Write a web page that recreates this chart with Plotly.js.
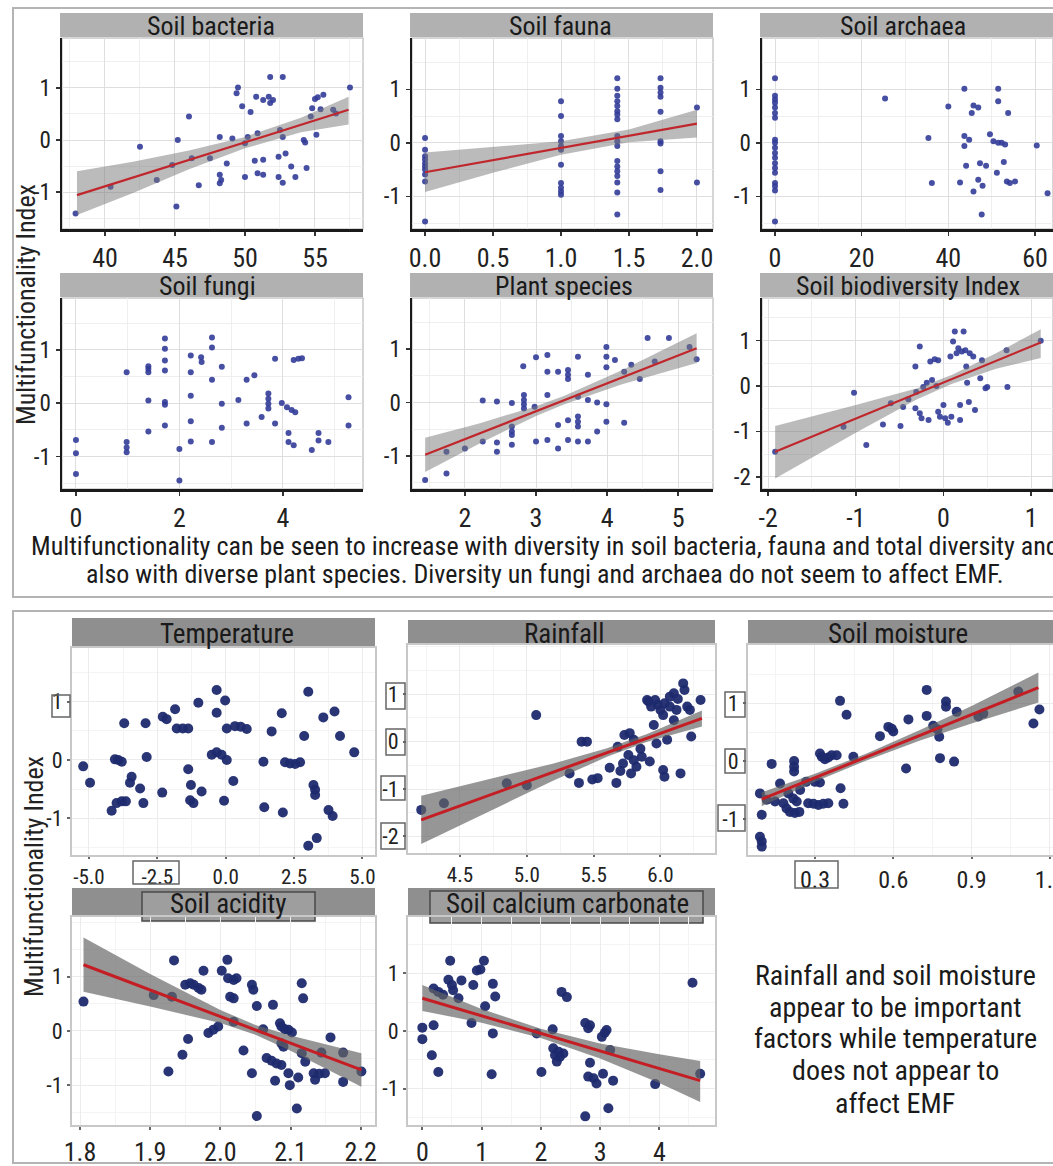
<!DOCTYPE html>
<html><head><meta charset="utf-8">
<script src="https://cdn.plot.ly/plotly-3.0.1.min.js"></script>
<style>html,body{margin:0;padding:0;background:#fff;} #chart{width:1053px;height:1166px;}</style>
</head><body><div id="chart"></div>
<script>
// ---------- DATA ----------
const bacteriaX = [37.9, 40.4, 42.5, 43.7, 45.1, 45.2, 46.0, 44.8, 46.2, 46.7, 47.5, 48.2, 48.2, 48.3, 48.2, 48.7, 49.1, 49.5, 49.4, 49.8, 50.0, 50.0, 50.2, 50.4, 50.8, 50.9, 50.7, 50.9, 51.3, 51.3, 51.3, 51.7, 51.8, 51.8, 52.0, 52.5, 52.4, 52.9, 52.7, 52.7, 52.4, 52.7, 53.3, 53.6, 54.2, 54.3, 54.4, 54.7, 54.8, 55.0, 55.2, 55.6, 55.1, 55.4, 56.3, 56.5, 57.5];
const bacteriaY = [-1.41, -0.90, -0.13, -0.77, -1.28, 0.0, 0.45, -0.48, -0.35, -0.87, -0.35, 0.06, -0.67, -0.77, -0.83, -0.45, 0.03, 1.01, 0.90, 0.65, -0.06, -0.71, 0.06, 0.54, 0.83, 0.13, -0.40, -0.64, -0.67, -0.38, 0.77, 0.83, 0.71, 1.21, 0.77, 0.19, -0.32, -0.26, 1.21, 0.06, -0.71, -0.82, -0.51, -0.71, 0.0, -0.05, -0.54, 0.45, 0.61, 0.79, 0.82, 0.87, 0.10, 0.59, 0.58, 0.51, 1.01];
const bacteriaFitX = [38, 42, 46, 50, 54, 57.4];
const bacteriaFitY = [-1.06, -0.72, -0.38, -0.05, 0.29, 0.58];
const bacteriaLo = [-1.44, -1.02, -0.56, -0.16, 0.15, 0.30];
const bacteriaHi = [-0.60, -0.42, -0.20, 0.06, 0.43, 0.83];

const faunaX = [0,0,0,0,0,0,0,0,0,0, 1,1,1,1,1,1,1,1,1,1,1, 1.414,1.414,1.414,1.414,1.414,1.414,1.414,1.414,1.414,1.414,1.414,1.414,1.414,1.414,1.414,1.414,1.414,1.414, 1.732,1.732,1.732,1.732,1.732,1.732,1.732,1.732,1.732, 2,2];
const faunaY = [0.09,-0.13,-0.25,-0.31,-0.38,-0.44,-0.50,-0.59,-0.72,-1.47, 0.78,0.50,0.13,0.03,-0.06,-0.13,-0.41,-0.75,-0.84,-0.91,-0.97, 1.21,1.01,0.88,0.78,0.69,0.59,0.53,0.44,0.13,0.03,-0.06,-0.34,-0.44,-0.53,-0.62,-0.74,-0.93,-1.34, 1.21,1.03,0.94,0.86,0.58,0.03,-0.01,-0.53,-0.88, 0.66,-0.74];
const faunaFitX = [0, 0.5, 1.0, 1.5, 2.0];
const faunaFitY = [-0.55, -0.32, -0.095, 0.13, 0.36];
const faunaLo = [-0.92, -0.56, -0.22, 0.01, 0.10];
const faunaHi = [-0.18, -0.08, 0.03, 0.25, 0.62];

const archaeaX = [0,0,0,0,0,0,0,0,0,0,0,0,0,0,0,0,0,0,0, 25.4, 35.4, 36.2, 40.0, 42.7, 43.7, 43.7, 43.7, 44.1, 44.8, 45.4, 45.8, 46.9, 45.8, 46.9, 47.3, 47.9, 48.7, 47.7, 49.6, 50.4, 51.2, 51.5, 51.5, 51.5, 52.3, 52.8, 53.1, 53.8, 53.5, 54.2, 55.4, 60.4, 62.9];
const archaeaY = [1.21,0.88,0.81,0.75,0.66,0.56,0.47,0.06,0.0,-0.09,-0.19,-0.28,-0.38,-0.47,-0.56,-0.75,-0.81,-0.89,-1.47, 0.83, 0.09, -0.75, 0.68, -0.74, 1.01, 0.13, -0.06, -0.43, 0.06, 0.56, 0.70, 0.66, -0.91, -0.69, -0.38, -0.80, -0.43, -1.34, 0.16, 0.03, -0.56, 1.01, 0.78, 0.0, 0.0, -0.36, -0.03, 0.56, -0.72, -0.75, -0.72, -0.05, -0.94];

const fungiX = [0,0,0, 0.98,0.98,0.98,0.98, 1.40,1.40,1.40,1.40,1.40, 1.72,1.72,1.72,1.72,1.72,1.72,1.72, 2.0,2.0, 2.22,2.22,2.22,2.22,2.22, 2.42,2.43, 2.63,2.63,2.63,2.63, 2.82,2.82,2.82, 3.14, 3.30, 3.45, 3.30, 3.59, 3.72,3.72,3.72,3.72, 3.85,3.85, 3.98, 4.08, 4.17, 4.24, 4.21, 4.30, 4.37, 4.11, 4.11, 4.21, 4.56, 4.69, 4.69, 4.88, 5.27, 5.27];
const fungiY = [-0.69,-0.94,-1.33, 0.58,-0.73,-0.83,-0.92, 0.69,0.64,0.58,0.05,-0.53, 1.21,1.02,0.80,0.61,0.02,-0.03,-0.42, -0.86,-1.45, 0.89,0.58,0.14,-0.34,-0.72, 0.86,0.77, 1.23,1.04,0.44,-0.73, 0.68,-0.01,-0.46, 0.06, 0.44, 0.52, -0.38, -0.26, 0.18,0.08,-0.01,-0.10, 0.83,-0.38, 0.0, -0.08, -0.13, -0.17, 0.81, 0.83, 0.84, -0.56, -0.73, -0.79, -0.88, -0.56, -0.70, -0.73, 0.11, -0.42];

const plantX = [1.44, 1.74, 1.74, 2.0, 2.25, 2.25, 2.45, 2.45, 2.45, 2.66, 2.66, 2.66, 2.66, 2.66, 2.82, 2.83, 2.83, 2.83, 2.83, 2.98, 3.0, 3.0, 3.16, 3.16, 3.16, 3.16, 3.31, 3.31, 3.31, 3.45, 3.45, 3.45, 3.45, 3.45, 3.59, 3.59, 3.59, 3.59, 3.59, 3.59, 3.73, 3.73, 3.73, 3.86, 3.86, 3.99, 3.99, 3.99, 3.99, 3.99, 4.11, 4.24, 4.24, 4.34, 4.46, 4.57, 4.67, 4.87, 5.16, 5.26];
const plantY = [-1.45, -0.92, -1.33, -0.86, 0.04, -0.73, 0.02, -0.75, -0.92, -0.01, -0.45, -0.54, -0.61, -0.79, 0.68, 0.14, 0.05, -0.03, -0.11, -0.08, -0.73, 0.85, 0.89, 0.58, 0.14, -0.70, 0.58, -0.42, -0.86, 0.61, 0.52, 0.44, -0.33, -0.70, 0.86, 0.11, -0.26, -0.36, -0.45, -0.73, 0.52, 0.05, -0.73, 0.0, -0.54, 1.04, 0.86, 0.66, -0.03, -0.36, 0.80, 0.58, -0.38, 0.71, 0.44, 1.21, 0.77, 1.21, 1.04, 0.81];
const plantFitX = [1.44, 2.2, 3.0, 3.4, 4.2, 5.26];
const plantFitY = [-0.98, -0.58, -0.16, 0.05, 0.47, 1.02];
const plantLo = [-1.30, -0.77, -0.25, -0.03, 0.34, 0.74];
const plantHi = [-0.66, -0.39, -0.07, 0.13, 0.60, 1.30];

const biodivX = [-1.92, -1.14, -1.02, -0.88, -0.69, -0.60, -0.49, -0.46, -0.40, -0.32, -0.31, -0.32, -0.27, -0.27, -0.25, -0.23, -0.19, -0.17, -0.15, -0.13, -0.10, -0.08, -0.06, -0.06, -0.04, 0.0, 0.02, 0.05, 0.08, 0.09, 0.11, 0.13, 0.15, 0.17, 0.19, 0.21, 0.23, 0.25, 0.26, 0.27, 0.19, 0.29, 0.30, 0.34, 0.36, 0.42, 0.44, 0.48, 0.50, 0.72, 0.73, 1.11];
const biodivY = [-1.45, -0.90, -0.15, -1.30, -0.85, -0.38, -0.88, -0.46, -0.29, 0.43, -0.13, -0.49, 0.87, -0.60, -0.71, -0.02, 0.07, -0.75, 0.54, 0.13, 0.59, 0.0, 0.57, -0.57, -0.68, -0.42, -0.71, -0.81, 0.65, -0.68, 0.98, 1.20, 0.72, 0.83, -0.75, 0.76, 1.20, 0.79, 0.43, 0.07, -0.42, -0.35, 0.72, 0.65, -0.53, 0.17, 0.57, -0.05, -0.02, 0.79, -0.02, 1.0];
const biodivFitX = [-1.92, -1.0, -0.3, 0.1, 0.6, 1.11];
const biodivFitY = [-1.45, -0.72, -0.17, 0.15, 0.55, 0.96];
const biodivLo = [-2.04, -1.03, -0.29, 0.05, 0.38, 0.62];
const biodivHi = [-0.88, -0.42, -0.05, 0.25, 0.72, 1.25];

const tempX = [-5.21, -4.96, -4.17, -4.05, -3.93, -3.80, -3.99, -3.80, -3.65, -3.71, -3.44, -3.50, -3.13, -3.01, -2.93, -2.89, -2.32, -2.30, -2.16, -1.85, -1.79, -1.57, -1.37, -1.37, -1.27, -1.30, -1.18, -0.88, -1.00, -0.51, -0.33, -0.15, 0.04, -0.33, -0.33, -0.02, -0.06, 0.04, 0.34, 0.55, 0.77, 0.28, 1.38, 1.41, 1.68, 2.05, 2.09, 2.17, 2.35, 2.54, 2.72, 2.87, 3.02, 3.02, 3.33, 3.21, 3.27, 3.27, 3.57, 3.98, 3.76, 3.91, 4.18, 4.70];
const tempY = [-0.11, -0.39, -0.87, 0.01, 0.0, -0.03, -0.74, -0.71, -0.71, 0.63, -0.29, -0.39, -0.49, -0.74, 0.63, 0.05, -0.56, 0.74, 0.70, 0.87, 0.54, 0.54, 0.54, -0.16, -0.43, -0.69, -0.74, -0.54, 0.98, 0.09, 0.13, 0.09, 0.0, 1.20, 0.81, 1.02, -0.70, 0.54, 0.58, 0.57, 0.53, -0.36, -0.03, -0.81, 0.49, 0.80, -0.90, -0.04, -0.06, -0.07, -0.04, 0.41, 1.17, -1.47, -1.34, -0.43, -0.51, -0.60, 0.73, 0.83, -0.86, -0.96, 0.41, 0.13];

const rainX = [4.21, 4.38, 4.85, 5.00, 5.07, 5.32, 5.39, 5.41, 5.45, 5.49, 5.53, 5.67, 5.68, 5.72, 5.73, 5.77, 5.80, 5.76, 5.80, 5.82, 5.78, 5.86, 5.92, 5.91, 5.93, 5.96, 5.97, 6.00, 6.02, 6.03, 6.02, 6.03, 6.05, 6.07, 6.10, 6.12, 6.15, 6.17, 6.18, 6.20, 6.23, 6.22, 6.30, 5.90, 6.07, 5.62, 5.70, 5.85, 5.95, 6.10, 6.13, 5.98];
const rainY = [-1.44, -1.30, -0.88, -0.92, 0.56, -0.67, -0.87, 0.0, 0.0, -0.80, -0.77, -0.87, -0.11, -0.46, 0.14, 0.18, 0.04, -0.28, -0.39, -0.53, -0.67, -0.32, -0.42, 0.85, 0.74, 0.88, -0.04, 0.67, 0.56, 0.81, -0.60, -0.74, 0.04, 0.95, 1.02, 0.67, -0.67, 1.23, 1.09, 0.74, 0.11, 0.67, 0.88, 0.88, 0.74, -0.55, -0.62, -0.15, 0.35, 0.45, 0.90, 0.78];
const rainFitX = [4.21, 4.7, 5.2, 5.6, 5.9, 6.31];
const rainFitY = [-1.65, -1.15, -0.64, -0.23, 0.08, 0.49];
const rainLo = [-2.16, -1.50, -0.82, -0.32, 0.00, 0.32];
const rainHi = [-1.14, -0.80, -0.46, -0.14, 0.16, 0.66];

const moistX = [0.089, 0.096, 0.089, 0.096, 0.096, 0.115, 0.134, 0.147, 0.166, 0.179, 0.191, 0.204, 0.223, 0.240, 0.198, 0.217, 0.230, 0.220, 0.220, 0.220, 0.243, 0.266, 0.274, 0.294, 0.313, 0.332, 0.351, 0.300, 0.319, 0.319, 0.326, 0.338, 0.351, 0.364, 0.383, 0.396, 0.421, 0.398, 0.409, 0.447, 0.549, 0.581, 0.594, 0.600, 0.649, 0.658, 0.728, 0.728, 0.753, 0.769, 0.776, 0.779, 0.802, 0.802, 0.833, 0.843, 0.926, 0.945, 1.079, 1.137, 1.160];
const moistY = [-0.56, -0.93, -1.31, -1.39, -1.48, -0.67, -0.05, -0.70, -0.39, -0.73, -0.82, -0.88, -0.90, -0.88, -0.56, -0.65, -0.70, 0.0, -0.10, -0.18, -0.50, -0.36, -0.73, -0.74, -0.76, -0.74, -0.73, -0.36, -0.37, 0.13, 0.075, 0.03, 0.06, 0.10, 0.10, 1.04, 0.80, -0.47, -0.74, 0.075, 0.43, 0.59, 0.56, 0.51, -0.13, 0.72, 1.23, 0.78, 0.61, 0.55, 0.42, 0.05, 1.03, 0.94, -0.01, 0.85, 0.77, 0.82, 1.20, 0.65, 0.89];
const moistFitX = [0.096, 0.3, 0.5, 0.7, 0.9, 1.156];
const moistFitY = [-0.66, -0.29, 0.075, 0.44, 0.80, 1.27];
const moistLo = [-0.78, -0.36, 0.015, 0.35, 0.65, 1.01];
const moistHi = [-0.54, -0.22, 0.135, 0.53, 0.95, 1.53];

const acidX = [1.805, 1.905, 1.931, 1.934, 1.926, 1.946, 1.954, 1.950, 1.957, 1.962, 1.969, 1.973, 1.976, 1.983, 1.990, 1.997, 2.002, 2.010, 2.011, 2.019, 2.023, 2.014, 2.019, 2.019, 2.033, 2.045, 2.047, 2.052, 2.045, 2.052, 2.061, 2.066, 2.073, 2.080, 2.087, 2.075, 2.078, 2.085, 2.087, 2.092, 2.097, 2.102, 2.087, 2.090, 2.097, 2.099, 2.109, 2.111, 2.116, 2.118, 2.116, 2.121, 2.133, 2.135, 2.141, 2.149, 2.144, 2.157, 2.175, 2.175, 2.201];
const acidY = [0.54, 0.66, 0.63, 1.30, -0.75, -0.44, -0.15, 0.85, 0.88, 0.85, 0.79, 0.76, 1.11, -0.04, 0.02, 0.08, 1.11, 1.31, 0.97, 0.94, 0.97, 0.63, 0.60, 0.17, -0.36, 0.85, 0.76, 0.46, -0.78, -1.57, 0.03, -0.50, -0.55, -0.60, -0.63, 0.48, -0.92, 0.14, 0.08, 0.03, 0.02, -0.03, -0.23, -0.29, -0.78, -1.00, -1.43, -0.86, 0.88, 0.60, -0.41, -0.57, -0.78, -0.90, -0.79, -0.78, -0.40, -0.12, -0.40, -0.94, -0.75];
const acidFitX = [1.805, 1.9, 2.0, 2.05, 2.1, 2.201];
const acidFitY = [1.22, 0.75, 0.265, 0.02, -0.225, -0.72];
const acidLo = [0.72, 0.45, 0.145, -0.07, -0.365, -1.03];
const acidHi = [1.72, 1.05, 0.385, 0.11, -0.085, -0.41];

const carbX = [0.0, 0.0, 0.16, 0.19, 0.27, 0.19, 0.27, 0.35, 0.47, 0.44, 0.50, 0.52, 0.61, 0.66, 0.83, 0.86, 0.92, 0.98, 1.04, 1.06, 1.19, 1.23, 1.19, 1.17, 2.01, 1.93, 2.20, 2.21, 2.24, 2.27, 2.32, 2.38, 2.30, 2.35, 2.44, 2.75, 2.80, 2.83, 2.75, 2.83, 2.80, 2.89, 2.94, 3.05, 3.03, 3.08, 3.11, 3.14, 3.17, 3.22, 3.93, 4.56, 4.69];
const carbY = [0.06, -0.14, -0.42, 0.10, -0.71, 0.74, 0.68, 0.63, 1.22, 0.89, 0.80, 0.71, 0.57, 0.88, 0.14, 0.80, 1.05, 1.07, 1.22, 0.43, 0.82, 0.60, -0.04, -0.75, -0.71, -0.04, 0.03, -0.30, -0.42, -0.53, -0.45, -0.39, -0.36, 0.68, 0.59, 0.14, 0.05, 0.10, -1.48, -0.55, -0.79, -0.82, -0.91, -0.74, -0.10, -0.03, 0.02, -1.34, -0.33, -0.86, -0.92, 0.84, -0.74];
const carbFitX = [0, 1, 2, 3, 4, 4.69];
const carbFitY = [0.57, 0.265, -0.04, -0.345, -0.65, -0.86];
const carbLo = [0.35, 0.145, -0.12, -0.475, -0.90, -1.23];
const carbHi = [0.80, 0.385, 0.04, -0.215, -0.40, -0.52];

// tick values and labels
const bacteriaTicks = [40, 45, 50, 55];           const bacteriaTickText = ['40','45','50','55'];
const faunaTicks = [0, 0.5, 1, 1.5, 2];            const faunaTickText = ['0.0','0.5','1.0','1.5','2.0'];
const archaeaTicks = [0, 20, 40, 60];              const archaeaTickText = ['0','20','40','60'];
const fungiTicks = [0, 2, 4];                      const fungiTickText = ['0','2','4'];
const plantTicks = [2, 3, 4, 5];                   const plantTickText = ['2','3','4','5'];
const biodivTicks = [-2, -1, 0, 1];                const biodivTickText = ['-2','-1','0','1'];
const tempTicks = [-5, -2.5, 0, 2.5, 5];           const tempTickText = ['-5.0','-2.5','0.0','2.5','5.0'];
const rainTicks = [4.5, 5, 5.5, 6];                const rainTickText = ['4.5','5.0','5.5','6.0'];
const moistTicks = [0.3, 0.6, 0.9, 1.2];           const moistTickText = ['0.3','0.6','0.9','1.2'];
const acidTicks = [1.8, 1.9, 2.0, 2.1, 2.2];       const acidTickText = ['1.8','1.9','2.0','2.1','2.2'];
const carbTicks = [0, 1, 2, 3, 4];                 const carbTickText = ['0','1','2','3','4'];
const yTicks3 = [-1, 0, 1];                        const yTickText3 = ['-1','0','1'];
const yTicks4 = [-2, -1, 0, 1];                    const yTickText4 = ['-2','-1','0','1'];

const panelTitles = ['Soil bacteria','Soil fauna','Soil archaea','Soil fungi','Plant species','Soil biodiversity Index','Temperature','Rainfall','Soil moisture','Soil acidity','Soil calcium carbonate'];
const yAxisTitle = 'Multifunctionality Index';
const captionLine1 = 'Multifunctionality can be seen to increase with diversity in soil bacteria, fauna and total diversity and';
const captionLine2 = 'also with diverse plant species. Diversity un fungi and archaea do not seem to affect EMF.';
const noteLines = ['Rainfall and soil moisture','appear to be important','factors while temperature','does not appear to','affect EMF'];

// ---------- LAYOUT ----------
const W=1053, H=1166;
const FONT="'Liberation Sans Narrow','Roboto Condensed','DejaVu Sans Condensed','Arial Narrow',sans-serif";
const fxp=p=>p/W, fyp=p=>1-p/H;

const panels = [
 {x:bacteriaX,y:bacteriaY,fx:bacteriaFitX,fy:bacteriaFitY,lo:bacteriaLo,hi:bacteriaHi,box:[62,363,38,229],xr:[36.93,58.43],yr:[-1.71,1.96],xt:bacteriaTicks,xtt:bacteriaTickText,md:2.5,yt:yTicks3,ytt:yTickText3,sec:'top',xf:26,strip:[60,363,13,37],tx:211},
 {x:faunaX,y:faunaY,fx:faunaFitX,fy:faunaFitY,lo:faunaLo,hi:faunaHi,box:[412,713,38,229],xr:[-0.096,2.118],yr:[-1.61,1.96],xt:faunaTicks,xtt:faunaTickText,md:0.25,yt:yTicks3,ytt:yTickText3,sec:'top',xf:26,strip:[410,713,13,37],tx:560},
 {x:archaeaX,y:archaeaY,box:[762,1053,38,229],xr:[-3.0,64.15],yr:[-1.61,1.96],xt:archaeaTicks,xtt:archaeaTickText,md:10,yt:yTicks3,ytt:yTickText3,sec:'top',xf:26,strip:[760,1070,13,37],tx:903},
 {x:fungiX,y:fungiY,box:[62,363,298,489],xr:[-0.27,5.55],yr:[-1.61,1.97],xt:fungiTicks,xtt:fungiTickText,md:1,yt:yTicks3,ytt:yTickText3,sec:'top',xf:26,strip:[60,363,273,297],tx:207},
 {x:plantX,y:plantY,fx:plantFitX,fy:plantFitY,lo:plantLo,hi:plantHi,box:[412,713,298,489],xr:[1.255,5.49],yr:[-1.62,1.96],xt:plantTicks,xtt:plantTickText,md:0.5,yt:yTicks3,ytt:yTickText3,sec:'top',xf:26,strip:[410,713,273,297],tx:564},
 {x:biodivX,y:biodivY,fx:biodivFitX,fy:biodivFitY,lo:biodivLo,hi:biodivHi,box:[762,1053,298,489],xr:[-2.07,1.25],yr:[-2.27,1.94],xt:biodivTicks,xtt:biodivTickText,md:0.5,yt:yTicks4,ytt:yTickText4,sec:'top',xf:26,strip:[760,1070,273,297],tx:908},
 {x:tempX,y:tempY,box:[72,375,648,855],xr:[-5.62,5.46],yr:[-1.63,1.92],xt:tempTicks,xtt:tempTickText,md:1.25,yt:yTicks3,ytt:yTickText3,sec:'bot',xf:21,tl:2,strip:[72,375,618,647],tx:227},
 {x:rainX,y:rainY,fx:rainFitX,fy:rainFitY,lo:rainLo,hi:rainHi,box:[408,715,645,853],xr:[4.111,6.408],yr:[-2.35,2.04],xt:rainTicks,xtt:rainTickText,md:0.25,yt:yTicks4,ytt:yTickText4,sec:'bot',xf:21,tl:2,strip:[408,715,620,645],tx:564},
 {x:moistX,y:moistY,fx:moistFitX,fy:moistFitY,lo:moistLo,hi:moistHi,box:[748,1053,645,855],xr:[0.0433,1.212],yr:[-1.625,2.006],xt:moistTicks,xtt:moistTickText,md:0.15,yt:yTicks3,ytt:yTickText3,sec:'bot',xf:24,tl:2,strip:[748,1070,620,645],tx:898},
 {x:acidX,y:acidY,fx:acidFitX,fy:acidFitY,lo:acidLo,hi:acidHi,box:[72,375,917,1125],xr:[1.7886,2.2204],yr:[-1.735,2.10],xt:acidTicks,xtt:acidTickText,md:0.05,yt:yTicks3,ytt:yTickText3,sec:'bot',xf:26,tl:3,strip:[72,375,888,917],tx:228},
 {x:carbX,y:carbY,fx:carbFitX,fy:carbFitY,lo:carbLo,hi:carbHi,box:[408,715,917,1125],xr:[-0.242,4.94],yr:[-1.63,1.98],xt:carbTicks,xtt:carbTickText,md:0.5,yt:yTicks3,ytt:yTickText3,sec:'bot',xf:26,tl:3,strip:[408,715,888,917],tx:567}
];

const traces=[], shapes=[], annotations=[];
const layout={width:W,height:H,margin:{l:0,r:0,t:0,b:0},paper_bgcolor:'#ffffff',plot_bgcolor:'rgba(0,0,0,0)',showlegend:false,font:{family:FONT,color:'#222'}};

// section frames
shapes.push({type:'rect',xref:'paper',yref:'paper',x0:fxp(13),x1:fxp(1070),y0:fyp(597),y1:fyp(8),line:{color:'#b4b4b4',width:2},fillcolor:'rgba(0,0,0,0)',layer:'below'});
shapes.push({type:'rect',xref:'paper',yref:'paper',x0:fxp(13),x1:fxp(1070),y0:fyp(1163),y1:fyp(611),line:{color:'#b4b4b4',width:2},fillcolor:'rgba(0,0,0,0)',layer:'below'});

panels.forEach((p,i)=>{
  const n=i+1, suf=(n===1?'':String(n));
  const xa='x'+suf, ya='y'+suf;
  const top=p.sec==='top';
  traces.push({type:'scatter',mode:'markers',x:p.x,y:p.y,xaxis:xa,yaxis:ya,hoverinfo:'skip',
    marker:{size:top?6:10,color:top?'#323c98':'#1d2a6e',opacity:top?0.9:0.95,line:{width:0}}});
  if(p.fx){
    traces.push({type:'scatter',mode:'lines',x:p.fx.concat(p.fx.slice().reverse()),y:p.hi.concat(p.lo.slice().reverse()),
      fill:'toself',fillcolor:top?'rgba(120,120,120,0.5)':'rgba(100,100,100,0.68)',line:{width:0},xaxis:xa,yaxis:ya,hoverinfo:'skip'});
    traces.push({type:'scatter',mode:'lines',x:p.fx,y:p.fy,line:{color:top?'#c0272d':'#c41e24',width:top?2.2:3},xaxis:xa,yaxis:ya,hoverinfo:'skip'});
  }
  const common={zeroline:false,fixedrange:true,ticks:'outside',ticklen:top?4:(p.tl||3),tickwidth:top?1.5:2,
    tickcolor:top?'#333':'#666',showgrid:true,gridcolor:top?'#dedede':'#ececec',gridwidth:1,
    ticklabeloverflow:'allow',tickmode:'array',
    showline:true,linecolor:top?'#1a1a1a':'#c8c8c8',linewidth:top?2.5:2,mirror:!top};
  layout['xaxis'+suf]=Object.assign({},common,{domain:[fxp(p.box[0]),fxp(p.box[1])],range:p.xr,anchor:ya,
    tickvals:p.xt,ticktext:p.xtt,
    minor:{showgrid:true,gridcolor:top?'#efefef':'#f4f4f4',tickmode:'linear',dtick:p.md,tick0:0,ticks:''},
    tickfont:{family:FONT,size:p.xf,color:'#222'}});
  layout['yaxis'+suf]=Object.assign({},common,{domain:[fyp(p.box[3]),fyp(p.box[2])],range:p.yr,anchor:xa,
    ticklen:top?4:3,tickvals:p.yt,ticktext:p.ytt,
    minor:{showgrid:true,gridcolor:top?'#efefef':'#f4f4f4',tickmode:'linear',dtick:0.5,tick0:0,ticks:''},
    tickfont:{family:FONT,size:top?23:22,color:'#222'}});
  if(top){
    shapes.push({type:'rect',xref:'paper',yref:'paper',x0:fxp(p.box[0]),x1:fxp(p.box[1]),y0:fyp(p.box[3]),y1:fyp(p.box[2]),
      line:{color:'#c9c9c9',width:1.5},fillcolor:'rgba(0,0,0,0)',layer:'below'});
  }
  const s=p.strip;
  shapes.push({type:'rect',xref:'paper',yref:'paper',x0:fxp(s[0]),x1:fxp(s[1]),y0:fyp(s[3]),y1:fyp(s[2]),
    line:{width:0},fillcolor:top?'#b1b1b1':'#8f8f8f',layer:'below'});
  annotations.push({xref:'paper',yref:'paper',x:fxp(p.tx),y:fyp((s[2]+s[3])/2+1),xanchor:'center',yanchor:'middle',
    text:panelTitles[i],showarrow:false,borderpad:0,font:{family:FONT,size:top?26:27,color:'#1a1a1a'}});
});

// title boxes inside the lower strips
shapes.push({type:'rect',xref:'paper',yref:'paper',x0:fxp(142),x1:fxp(315),y0:fyp(921),y1:fyp(892),line:{color:'#4a4a4a',width:1.5},fillcolor:'#9e9e9e',layer:'below'});
shapes.push({type:'rect',xref:'paper',yref:'paper',x0:fxp(430),x1:fxp(703),y0:fyp(923),y1:fyp(891),line:{color:'#4a4a4a',width:1.5},fillcolor:'#9e9e9e',layer:'below'});

// boxed tick labels
[[52,70,695,717],[133,179,861,884],[386,405,683,709],[386,405,729,755],[381,405,776,800],[381,405,823,849],
 [725,745,692,717],[725,745,749,773],[718,745,805,831],[795,838,861,888]].forEach(b=>{
  shapes.push({type:'rect',xref:'paper',yref:'paper',x0:fxp(b[0]),x1:fxp(b[1]),y0:fyp(b[3]),y1:fyp(b[2]),line:{color:'#666',width:1.5},fillcolor:'rgba(0,0,0,0)',layer:'above'});
});

// y titles
annotations.push({xref:'paper',yref:'paper',x:fxp(26),y:fyp(305),xanchor:'center',yanchor:'middle',textangle:-90,text:yAxisTitle,showarrow:false,font:{family:FONT,size:26,color:'#222'}});
annotations.push({xref:'paper',yref:'paper',x:fxp(34),y:fyp(877),xanchor:'center',yanchor:'middle',textangle:-90,text:yAxisTitle,showarrow:false,font:{family:FONT,size:26,color:'#222'}});
// captions
annotations.push({xref:'paper',yref:'paper',x:fxp(545),y:fyp(546),xanchor:'center',yanchor:'middle',text:captionLine1,showarrow:false,borderpad:0,font:{family:FONT,size:26,color:'#1a1a1a'}});
annotations.push({xref:'paper',yref:'paper',x:fxp(545),y:fyp(574),xanchor:'center',yanchor:'middle',text:captionLine2,showarrow:false,borderpad:0,font:{family:FONT,size:26,color:'#1a1a1a'}});
const noteY=[975,1007,1038,1070,1103];
noteLines.forEach((t,k)=>annotations.push({xref:'paper',yref:'paper',x:fxp(895),y:fyp(noteY[k]),xanchor:'center',yanchor:'middle',text:t,showarrow:false,borderpad:0,font:{family:FONT,size:28,color:'#1a1a1a'}}));

layout.shapes=shapes; layout.annotations=annotations;
Plotly.newPlot('chart',traces,layout,{staticPlot:true,displayModeBar:false});
</script></body></html>
